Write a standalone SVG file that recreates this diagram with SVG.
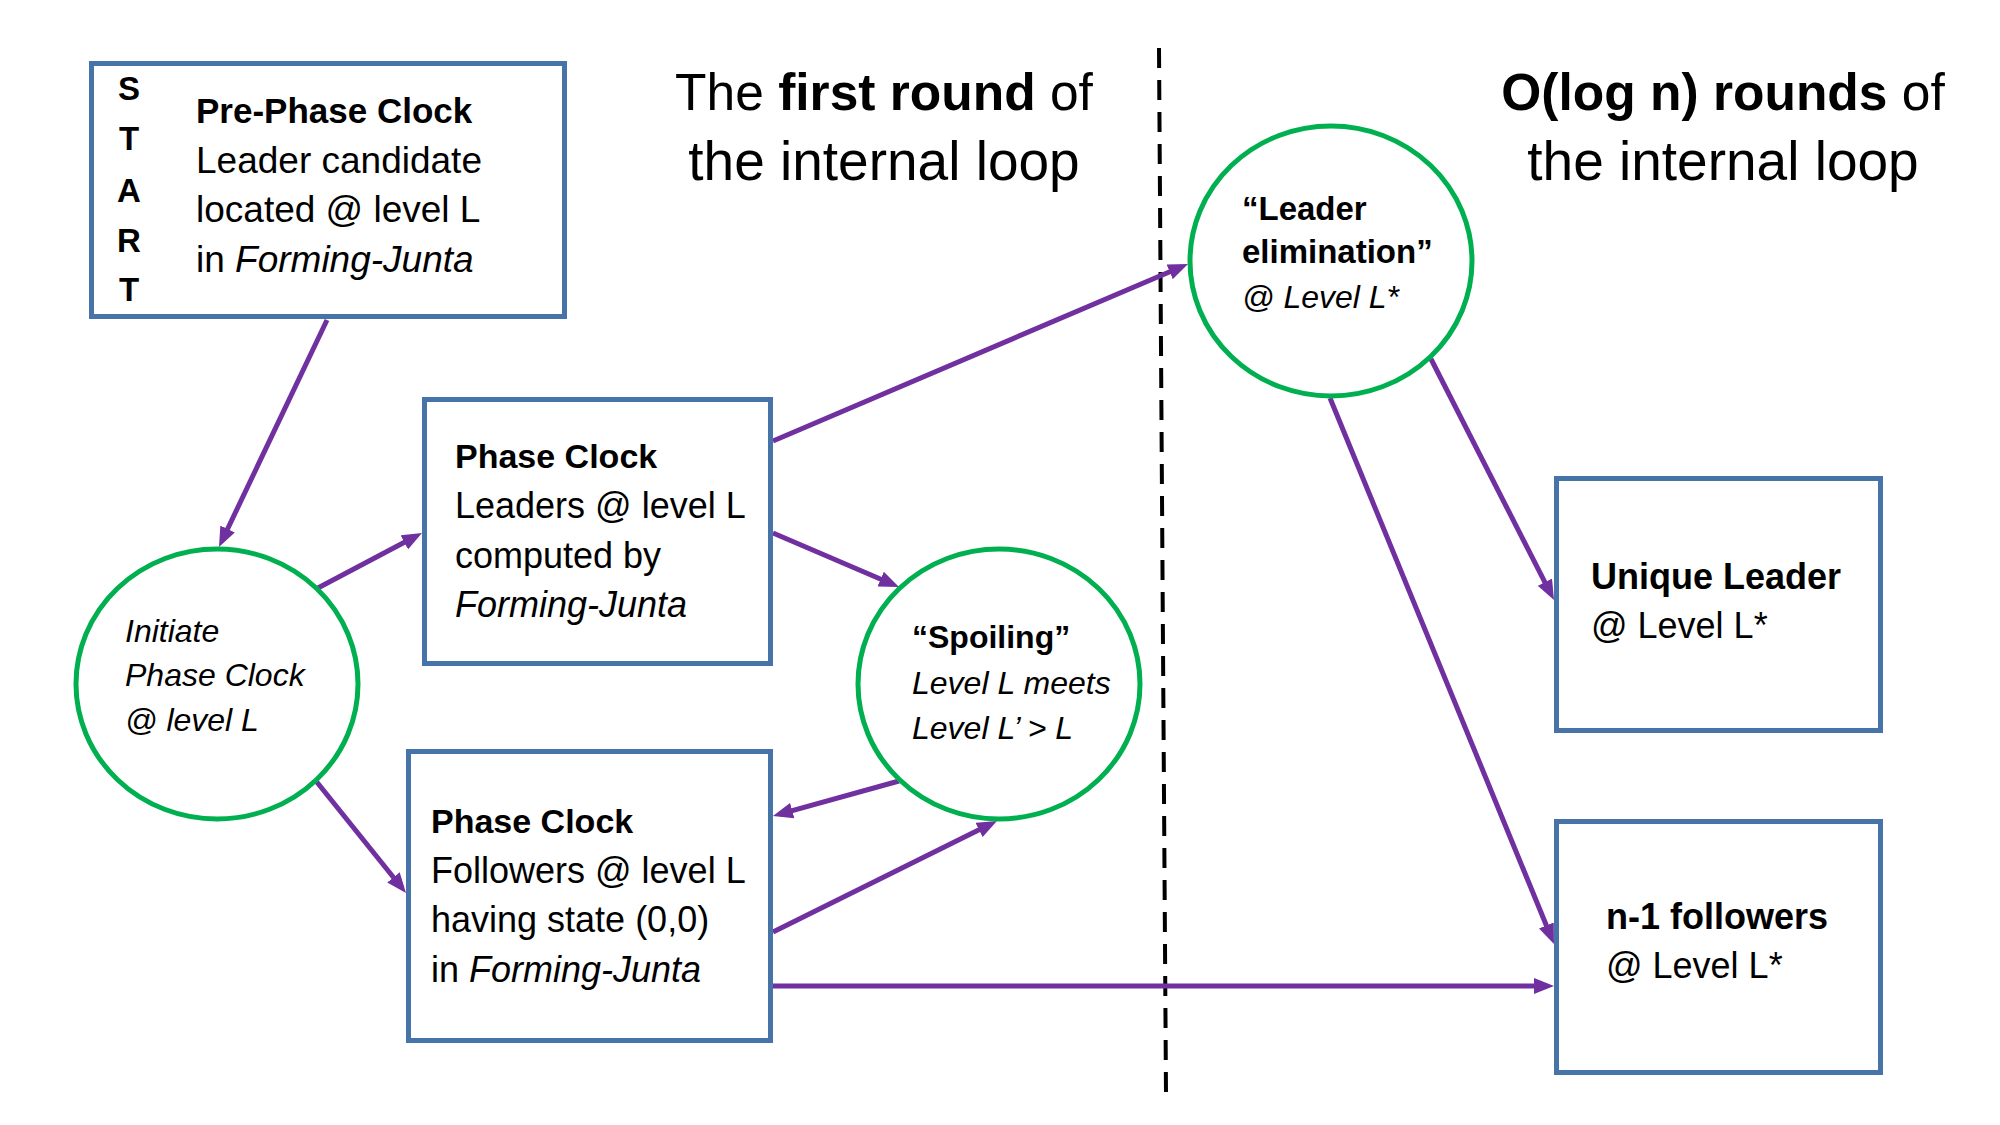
<svg xmlns="http://www.w3.org/2000/svg" width="2000" height="1125" viewBox="0 0 2000 1125">
<defs>
<marker id="ah" markerUnits="userSpaceOnUse" markerWidth="20" markerHeight="16" refX="13" refY="8" orient="auto">
<path d="M0,0 L20,8 L0,16 z" fill="#7030A0"/>
</marker>
<style>
.box{fill:#fff;stroke:#4674A8;stroke-width:5}
.circ{fill:#fff;stroke:#00B050;stroke-width:5}
.c{fill:none;stroke:#7030A0;stroke-width:5;marker-end:url(#ah)}
text{font-family:"Liberation Sans",Arial,sans-serif;fill:#000}
.t36{font-size:36px}
.t37{font-size:37px}
.b34{font-size:34px;font-weight:bold}
.b35{font-size:35px;font-weight:bold}
.b36{font-size:36px;font-weight:bold}
.i32{font-size:32px;font-style:italic}
.b32{font-size:32px;font-weight:bold}
.b33{font-size:33px;font-weight:bold}
.title{font-size:55px;text-anchor:middle}
.title1{font-size:51.5px;text-anchor:middle}
.st{font-size:33px;font-weight:bold;text-anchor:middle}
.it{font-style:italic}
.bd{font-weight:bold}
</style>
</defs>
<rect width="2000" height="1125" fill="#fff"/>

<g id="titles">
<text class="title1" x="884" y="110">The <tspan class="bd">first round</tspan> of</text>
<text class="title" x="884" y="180">the internal loop</text>
<text class="title1" x="1723" y="110"><tspan class="bd">O(log n) rounds</tspan> of</text>
<text class="title" x="1723" y="180">the internal loop</text>
</g>

<line id="divider" x1="1159" y1="48" x2="1166" y2="1094" stroke="#000" stroke-width="4" stroke-dasharray="20 12"/>

<g id="connectors">
<path class="c" d="M327,320 L222,540.7"/>
<path class="c" d="M316,589 L415.8,536.3"/>
<path class="c" d="M316,781 L401.6,887.5"/>
<path class="c" d="M773,441 L1181.6,266.7"/>
<path class="c" d="M773,533 L892.6,584.2"/>
<path class="c" d="M899,781 L779.7,814.1"/>
<path class="c" d="M773,932 L990.7,824.1"/>
<path class="c" d="M773,986 L1547,986"/>
<path class="c" d="M1431,359 L1550.8,593.8"/>
<path class="c" d="M1330,398 L1551.3,937.5"/>
</g>

<g id="prephase">
<rect class="box" x="91.5" y="63.5" width="473" height="253"/>
<text class="st" x="129" y="100">S</text>
<text class="st" x="129" y="150">T</text>
<text class="st" x="129" y="202">A</text>
<text class="st" x="129" y="252">R</text>
<text class="st" x="129" y="301">T</text>
<text class="b35" x="196" y="123">Pre-Phase Clock</text>
<text class="t37" x="196" y="173">Leader candidate</text>
<text class="t37" x="196" y="222">located @ level L</text>
<text class="t37" x="196" y="272">in <tspan class="it">Forming-Junta</tspan></text>
</g>

<g id="initiate">
<ellipse class="circ" cx="217" cy="684" rx="141" ry="135"/>
<text class="i32" x="125" y="642">Initiate</text>
<text class="i32" x="125" y="686">Phase Clock</text>
<text class="i32" x="125" y="731">@ level L</text>
</g>

<g id="leaders">
<rect class="box" x="424.5" y="399.5" width="346" height="264"/>
<text class="b34" x="455" y="468">Phase Clock</text>
<text class="t36" x="455" y="518">Leaders @ level L</text>
<text class="t36" x="455" y="568">computed by</text>
<text class="t36 it" x="455" y="617">Forming-Junta</text>
</g>

<g id="followers">
<rect class="box" x="408.5" y="751.5" width="362" height="289"/>
<text class="b34" x="431" y="833">Phase Clock</text>
<text class="t36" x="431" y="883">Followers @ level L</text>
<text class="t36" x="431" y="932">having state (0,0)</text>
<text class="t36" x="431" y="982">in <tspan class="it">Forming-Junta</tspan></text>
</g>

<g id="spoiling">
<ellipse class="circ" cx="999" cy="684" rx="141" ry="135"/>
<text class="b32" x="912" y="648">“Spoiling”</text>
<text class="i32" x="912" y="694">Level L meets</text>
<text class="i32" x="912" y="739">Level L’ &gt; L</text>
</g>

<g id="elimination">
<ellipse class="circ" cx="1331" cy="261" rx="141" ry="135"/>
<text class="b33" x="1242" y="220">“Leader</text>
<text class="b33" x="1242" y="263">elimination”</text>
<text class="i32" x="1242" y="308">@ Level L*</text>
</g>

<g id="unique">
<rect class="box" x="1556.5" y="478.5" width="324" height="252"/>
<text class="b36" x="1591" y="589">Unique Leader</text>
<text class="t36" x="1591" y="638">@ Level L*</text>
</g>

<g id="nfollowers">
<rect class="box" x="1556.5" y="821.5" width="324" height="251"/>
<text class="b36" x="1606" y="929">n-1 followers</text>
<text class="t36" x="1606" y="978">@ Level L*</text>
</g>
</svg>
